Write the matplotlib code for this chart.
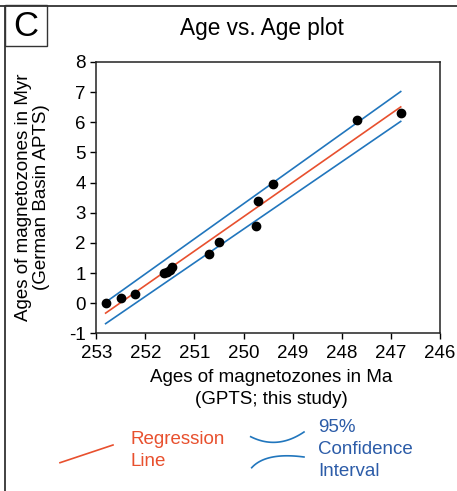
import numpy as np
import matplotlib
matplotlib.use("Agg")
import matplotlib.pyplot as plt
from matplotlib.patches import Rectangle
from matplotlib.lines import Line2D

plt.rcParams['font.family'] = ['Liberation Sans', 'DejaVu Sans']

# Data
gpts_age = [252.81, 252.50, 252.21, 251.62, 251.56, 251.50, 251.46, 250.70, 250.51, 249.75, 249.71, 249.41, 247.70, 246.80]
apts_age = [0.00, 0.18, 0.29, 1.00, 1.04, 1.10, 1.19, 1.64, 2.04, 2.57, 3.38, 3.95, 6.06, 6.30]

reg_x = [252.81, 246.80]
reg_y = [-0.33, 6.51]
ci_upper_y = [0.03, 7.02]
ci_lower_y = [-0.68, 6.03]

x_ticks = [253, 252, 251, 250, 249, 248, 247, 246]
y_ticks = [-1, 0, 1, 2, 3, 4, 5, 6, 7, 8]

W, H = 457, 491
fig = plt.figure(figsize=(W / 100, H / 100), dpi=100)

def fx(x):
    return x / W

def fy(y):
    return 1 - y / H

ax = fig.add_axes([fx(96.3), fy(333.3), fx(440) - fx(96.3), fy(62) - fy(333.3)])

red = '#e8502e'
blue = '#2176bd'
blue_text = '#2c5ca8'

ax.plot(reg_x, reg_y, color=red, lw=1.2, zorder=2)
ax.plot(reg_x, ci_upper_y, color=blue, lw=1.2, zorder=2)
ax.plot(reg_x, ci_lower_y, color=blue, lw=1.2, zorder=2)
ax.plot(gpts_age, apts_age, 'o', color='black', ms=6.0, zorder=3)

ax.set_xlim(253, 246)
ax.set_ylim(-1, 8)
ax.set_xticks(x_ticks)
ax.set_yticks(y_ticks)
ax.set_xticklabels([str(t) for t in x_ticks])
ax.set_yticklabels([str(t) for t in y_ticks])
ax.tick_params(direction='out', length=4.3, width=1.0, labelsize=13.5, colors='black')
ax.tick_params(axis='x', pad=4.0)
ax.tick_params(axis='y', pad=3.2)
for s in ax.spines.values():
    s.set_linewidth(1.1)
    s.set_color('#222222')

# Labels
fig.text(fx(271), fy(377), 'Ages of magnetozones in Ma', ha='center', va='center', fontsize=13.5)
fig.text(fx(271), fy(399), '(GPTS; this study)', ha='center', va='center', fontsize=13.5)
fig.text(fx(24), fy(197), 'Ages of magnetozones in Myr', ha='center', va='center', fontsize=13.5, rotation=90)
fig.text(fx(42), fy(197), '(German Basin APTS)', ha='center', va='center', fontsize=13.5, rotation=90)

fig.text(fx(262), fy(28), 'Age vs. Age plot', ha='center', va='center', fontsize=16.3)

# Panel frame and label
fig.add_artist(Line2D([fx(0), fx(W)], [fy(5.5), fy(5.5)], color='#333333', lw=1.3))
fig.add_artist(Line2D([fx(4.5), fx(4.5)], [fy(5.5), fy(H)], color='#333333', lw=1.3))
fig.add_artist(Rectangle((fx(4.5), fy(46)), fx(46.7) - fx(4.5), fy(5.5) - fy(46),
                         transform=fig.transFigure, fill=False, ec='#333333', lw=1.0))
fig.text(fx(25.5), fy(26), 'C', ha='center', va='center', fontsize=25)

# Legend (drawn manually)
fig.add_artist(Line2D([fx(60), fx(113)], [fy(462.7), fy(445)], color=red, lw=1.2))
fig.text(fx(130), fy(439), 'Regression', color=red, ha='left', va='center', fontsize=13.5)
fig.text(fx(130), fy(461), 'Line', color=red, ha='left', va='center', fontsize=13.5)

t = np.linspace(0, 1, 50)
ux = 250.7 + (304 - 250.7) * t
uy = 436.7 * (1 - t) ** 2 + 2 * t * (1 - t) * 450 + 432 * t ** 2
fig.add_artist(Line2D(fx(ux), fy(uy), color=blue, lw=1.2))
lx = 251.7 * (1 - t) ** 2 + 2 * t * (1 - t) * 266 + 304 * t ** 2
ly = 467.7 * (1 - t) ** 2 + 2 * t * (1 - t) * 452 + 457 * t ** 2
fig.add_artist(Line2D(fx(lx), fy(ly), color=blue, lw=1.2))

fig.text(fx(318), fy(428), '95%', color=blue_text, ha='left', va='center', fontsize=13.5)
fig.text(fx(318), fy(449.5), 'Confidence', color=blue_text, ha='left', va='center', fontsize=13.5)
fig.text(fx(318), fy(471), 'Interval', color=blue_text, ha='left', va='center', fontsize=13.5)

fig.savefig('out.png', dpi=100)
